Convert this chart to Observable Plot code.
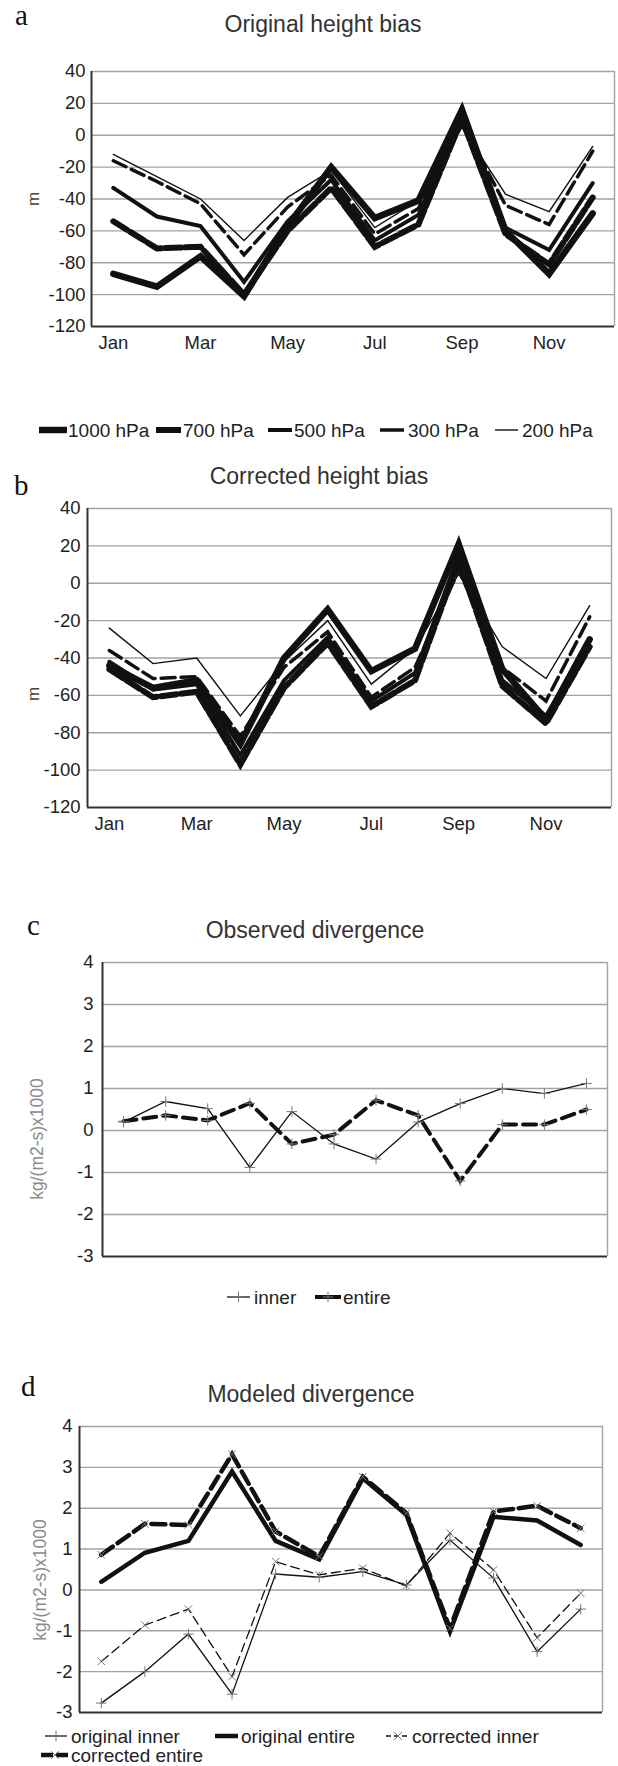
<!DOCTYPE html>
<html>
<head>
<meta charset="utf-8">
<script src="https://cdn.jsdelivr.net/npm/d3@7"></script>
<script src="https://cdn.jsdelivr.net/npm/@observablehq/plot@0.6"></script>
<style>
html,body{margin:0;padding:0;background:#fff;}
#page{position:relative;width:618px;height:1766px;overflow:hidden;background:#fff;font-family:"Liberation Sans",Arial,sans-serif;}
.panel{position:absolute;left:0;}
#overlay{position:absolute;left:0;top:0;pointer-events:none;}
</style>
</head>
<body>
<div id="page"></div>
<script>
// ---------- data ----------
const months = ["Jan","Feb","Mar","Apr","May","Jun","Jul","Aug","Sep","Oct","Nov","Dec"];
const monthTicks = ["Jan","Mar","May","Jul","Sep","Nov"];
const heightTicks = [-120,-100,-80,-60,-40,-20,0,20,40];
const divTicks = [-3,-2,-1,0,1,2,3,4];

// (a) Original height bias, m
const a1000 = [-87,-95,-76,-101,-57,-20,-52,-41,16,-60,-87,-49];
const a700  = [-54,-71,-70,-100,-60,-33,-70,-56,10,-62,-81,-39];
const a500  = [-33,-51,-57,-92,-54,-28,-66,-50,13,-58,-72,-30];
const a300  = [-16,-29,-43,-75,-45,-25,-62,-46,8,-44,-56,-10];
const a200  = [-12,-26,-40,-66,-39,-22,-58,-41,5,-37,-48,-7];

// (b) Corrected height bias, m
const b1000 = [-44,-56,-52,-86,-40,-14,-47,-35,21,-46,-73,-30];
const b700  = [-46,-61,-58,-97,-56,-32,-66,-52,12,-55,-75,-34];
const b500  = [-42,-57,-54,-92,-52,-29,-63,-48,15,-52,-71,-31];
const b300  = [-36,-51,-50,-82,-45,-26,-61,-45,7,-45,-63,-18];
const b200  = [-24,-43,-40,-71,-42,-20,-54,-35,5,-34,-51,-12];

// (c) Observed divergence, kg/(m2-s)x1000
const cInner  = [0.20,0.69,0.52,-0.88,0.45,-0.32,-0.68,0.20,0.64,1.00,0.88,1.12];
const cEntire = [0.22,0.36,0.24,0.65,-0.32,-0.10,0.72,0.36,-1.20,0.14,0.14,0.50];

// (d) Modeled divergence, kg/(m2-s)x1000
const dOrigInner  = [-2.77,-2.00,-1.08,-2.55,0.39,0.31,0.45,0.12,1.22,0.29,-1.51,-0.47];
const dOrigEntire = [0.20,0.91,1.20,2.90,1.20,0.75,2.73,1.84,-1.02,1.79,1.70,1.10];
const dCorrInner  = [-1.75,-0.86,-0.47,-2.12,0.69,0.37,0.53,0.10,1.39,0.49,-1.17,-0.08];
const dCorrEntire = [0.86,1.62,1.59,3.32,1.43,0.82,2.77,1.88,-0.94,1.92,2.06,1.51];

// ---------- styles ----------
const heightStyles = {
  "1000 hPa": {w: 6.5},
  "700 hPa":  {w: 6, dash: "16,4"},
  "500 hPa":  {w: 4},
  "300 hPa":  {w: 3.5, dash: "14,6"},
  "200 hPa":  {w: 1.4}
};
const obsStyles = {
  "entire": {w: 4, dash: "13,7", symbol: "plus"},
  "inner":  {w: 1.3, symbol: "plus"}
};
const modStyles = {
  "original entire":  {w: 4.5},
  "corrected entire": {w: 4.5, dash: "14,6", symbol: "times"},
  "original inner":   {w: 1.3, symbol: "plus"},
  "corrected inner":  {w: 1.3, dash: "9,5", symbol: "times"}
};

const FONT = "Liberation Sans, Arial, sans-serif";
const page = document.getElementById("page");

function makePanel(cfg) {
  const {series, styles, yDomain, yTicks, ml, mr, mt, plotH, mb, xLabels, yPad, xPad, top} = cfg;
  const rows = series.flatMap(s => s.values.map((v, k) => ({key: s.key, i: k, month: months[k], v})));
  const marks = [
    Plot.ruleY(yTicks.filter(t => t > yDomain[0]), {stroke: "#a3a3a3", strokeWidth: 1.4}),
    Plot.ruleX([11.5], {stroke: "#a3a3a3", strokeWidth: 1.4})
  ];
  for (const s of series) {
    const st = styles[s.key];
    const d = rows.filter(r => r.key === s.key);
    marks.push(Plot.line(d, {x: "i", y: "v", stroke: "#111", strokeWidth: st.w,
      strokeDasharray: st.dash, strokeLinejoin: "miter", strokeMiterlimit: 3}));
    if (st.symbol) marks.push(Plot.dot(d, {x: "i", y: "v", symbol: st.symbol, r: 3.5, stroke: "#777", strokeWidth: 1}));
  }
  marks.push(Plot.ruleX([-0.5], {stroke: "#333", strokeWidth: 2}));
  marks.push(Plot.ruleY([yDomain[0]], {stroke: "#333", strokeWidth: 2}));
  marks.push(Plot.axisY(yTicks, {tickSize: 0, tickPadding: yPad, fontSize: 18.5, label: null, tickFormat: t => String(t)}));
  if (xLabels) marks.push(Plot.axisX(xLabels.map(m => months.indexOf(m)),
    {tickSize: 0, tickPadding: xPad, fontSize: 18.5, label: null, tickFormat: k => months[k]}));
  const x = {domain: [-0.5, 11.5]};
  if (!xLabels) x.axis = null;
  const fig = Plot.plot({
    width: 618, height: mt + plotH + mb,
    marginLeft: ml, marginRight: mr, marginTop: mt, marginBottom: mb,
    x, y: {domain: yDomain},
    style: {color: "#222", fontFamily: FONT, fontSize: "18.5px", background: "transparent", overflow: "visible"},
    marks
  });
  const div = document.createElement("div");
  div.className = "panel";
  div.style.top = (top - mt) + "px";
  div.appendChild(fig);
  page.appendChild(div);
}

makePanel({
  series: [{key:"1000 hPa", values:a1000},{key:"700 hPa", values:a700},{key:"500 hPa", values:a500},{key:"300 hPa", values:a300},{key:"200 hPa", values:a200}],
  styles: heightStyles, yDomain: [-120, 40], yTicks: heightTicks,
  ml: 91, mr: 4, mt: 10, plotH: 255, mb: 40, top: 71, yPad: 6, xPad: 9.5, xLabels: monthTicks
});
makePanel({
  series: [{key:"1000 hPa", values:b1000},{key:"700 hPa", values:b700},{key:"500 hPa", values:b500},{key:"300 hPa", values:b300},{key:"200 hPa", values:b200}],
  styles: heightStyles, yDomain: [-120, 40], yTicks: heightTicks,
  ml: 87, mr: 7, mt: 10, plotH: 299, mb: 40, top: 508, yPad: 7, xPad: 9, xLabels: monthTicks
});
makePanel({
  series: [{key:"entire", values:cEntire},{key:"inner", values:cInner}],
  styles: obsStyles, yDomain: [-3, 4], yTicks: divTicks,
  ml: 102, mr: 11, mt: 10, plotH: 294, mb: 10, top: 962, yPad: 9
});
makePanel({
  series: [{key:"original entire", values:dOrigEntire},{key:"corrected entire", values:dCorrEntire},{key:"original inner", values:dOrigInner},{key:"corrected inner", values:dCorrInner}],
  styles: modStyles, yDomain: [-3, 4], yTicks: divTicks,
  ml: 79, mr: 16, mt: 10, plotH: 286, mb: 10, top: 1426, yPad: 7
});

// ---------- titles, labels, legends ----------
const svg = d3.select(page).append("svg").attr("id", "overlay")
  .attr("width", 618).attr("height", 1766).style("font-family", FONT);

function txt(s, x, y, o = {}) {
  const t = svg.append("text").text(s).attr("x", x).attr("y", y)
    .attr("font-size", o.size || 18.5).attr("fill", o.fill || "#222")
    .attr("text-anchor", o.anchor || "start");
  if (o.family) t.attr("font-family", o.family);
  if (o.rotate) t.attr("transform", `rotate(-90 ${x} ${y})`).attr("dominant-baseline", "central");
  return t;
}
const SERIF = "Liberation Serif, Times New Roman, serif";
// panel letters
txt("a", 15, 25, {size: 29, family: SERIF, fill: "#111"});
txt("b", 14, 495, {size: 29, family: SERIF, fill: "#111"});
txt("c", 27, 935, {size: 29, family: SERIF, fill: "#111"});
txt("d", 21, 1396, {size: 29, family: SERIF, fill: "#111"});
// titles
txt("Original height bias", 323, 32, {size: 23, anchor: "middle", fill: "#333"});
txt("Corrected height bias", 319, 484, {size: 23, anchor: "middle", fill: "#333"});
txt("Observed divergence", 315, 938, {size: 23, anchor: "middle", fill: "#333"});
txt("Modeled divergence", 311, 1402, {size: 23, anchor: "middle", fill: "#333"});
// y labels
txt("m", 33, 199, {size: 17, anchor: "middle", fill: "#444", rotate: true});
txt("m", 33, 694, {size: 17, anchor: "middle", fill: "#444", rotate: true});
txt("kg/(m2-s)x1000", 37, 1139, {size: 17.5, anchor: "middle", fill: "#8a8a8a", rotate: true});
txt("kg/(m2-s)x1000", 40, 1580, {size: 17.5, anchor: "middle", fill: "#8a8a8a", rotate: true});

function swatch(x1, x2, y, st) {
  svg.append("line").attr("x1", x1).attr("x2", x2).attr("y1", y).attr("y2", y)
    .attr("stroke", "#111").attr("stroke-width", st.w)
    .attr("stroke-dasharray", st.legendDash || null);
  if (st.symbol) {
    const sym = d3.symbol(st.symbol === "plus" ? d3.symbolPlus : d3.symbolTimes, 40);
    svg.append("path").attr("d", sym()).attr("transform", `translate(${(x1 + x2) / 2},${y})`)
      .attr("fill", "none").attr("stroke", "#777").attr("stroke-width", 1);
  }
}
function legendItem(label, st, x1, x2, tx, y) {
  swatch(x1, x2, y, st);
  txt(label, tx, y + 6.5, {size: 19});
}
// legend a
legendItem("1000 hPa", heightStyles["1000 hPa"], 39, 67, 68, 430);
legendItem("700 hPa", {w: 6}, 156, 181, 183, 430);
legendItem("500 hPa", heightStyles["500 hPa"], 268, 292, 294, 430);
legendItem("300 hPa", {w: 3.5}, 380, 404, 408, 430);
legendItem("200 hPa", heightStyles["200 hPa"], 495, 518, 522, 430);
// legend c
legendItem("inner", obsStyles["inner"], 227, 250, 254, 1297);
legendItem("entire", {w: 4, symbol: "plus"}, 315, 341, 343, 1297);
// legend d
legendItem("original inner", modStyles["original inner"], 45, 67, 71, 1736);
legendItem("original entire", modStyles["original entire"], 215, 238, 241, 1736);
legendItem("corrected inner", {w: 1.3, legendDash: "5,3", symbol: "times"}, 386, 410, 412, 1736);
legendItem("corrected entire", {w: 4.5, legendDash: "12,3", symbol: "times"}, 41, 69, 71, 1755);
</script>
</body>
</html>
